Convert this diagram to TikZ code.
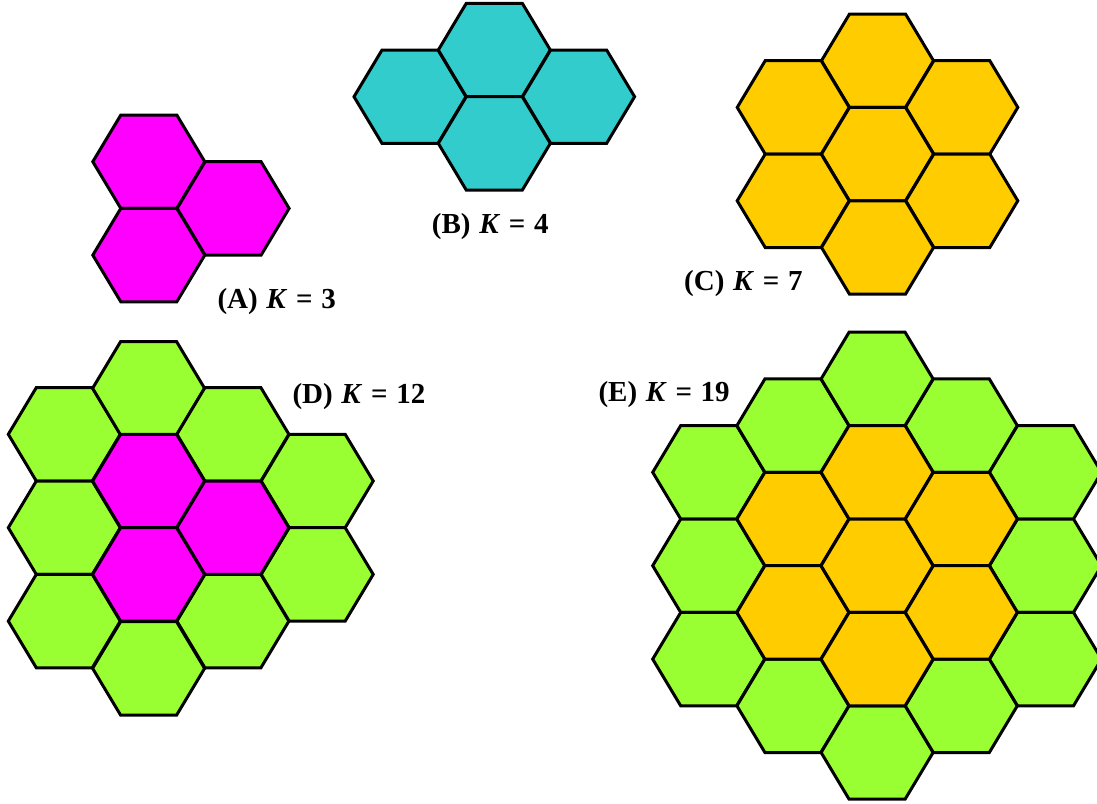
\documentclass[tikz,border=0pt]{standalone}
\usepackage{fontspec}
\setmainfont{Liberation Serif}
\definecolor{hexmag}{HTML}{FF00FF}
\definecolor{hexteal}{HTML}{33CCCC}
\definecolor{hexgold}{HTML}{FFCC00}
\definecolor{hexlime}{HTML}{99FF33}
\newcommand\lblfont{\fontsize{29}{32}\selectfont\bfseries\spaceskip=8.7pt\relax}
\tikzset{
  hexline/.style={draw=black, line width=3pt, line join=miter},
  lbl/.style={anchor=base west, inner sep=0pt, font=\lblfont},
}
% hexagon centred at (#2,#3), fill colour #1
\newcommand\hexcell[3]{%
  \filldraw[hexline, fill=#1, shift={(#2,#3)}]
    (-56,0) -- (-28,-46.7) -- (28,-46.7) -- (56,0) -- (28,46.7) -- (-28,46.7) -- cycle;}
\begin{document}
\begin{tikzpicture}[x=1pt, y=-1pt]
\useasboundingbox (0,0) rectangle (1097,803);
\clip (0,0) rectangle (1097,803);
% (A) K = 3
\hexcell{hexmag}{148.8}{161.7}
\hexcell{hexmag}{233.1}{208.4}
\hexcell{hexmag}{148.8}{255.1}
\node[lbl] (la) at (217.3,308.5) {(A) \textit{K} = 3};
% (B) K = 4
\hexcell{hexteal}{410}{96.7}
\hexcell{hexteal}{494.3}{50}
\hexcell{hexteal}{578.6}{96.7}
\hexcell{hexteal}{494.3}{143.4}
\node[lbl] (lb) at (431.7,233.3) {(B) \textit{K} = 4};
% (C) K = 7
\foreach \cx/\cy in {877.5/60.7, 793.2/107.4, 961.8/107.4, 877.5/154.1, 793.2/200.8, 961.8/200.8, 877.5/247.5}
  {\hexcell{hexgold}{\cx}{\cy}}
\node[lbl] (lc) at (684,290.3) {(C) \textit{K} = 7};
% (D) K = 12
\foreach \cx/\cy in {64.3/434.3, 64.3/527.7, 64.3/621.1,
                     148.6/388.3, 148.6/668.4,
                     232.9/434.3, 232.9/621.1,
                     317.2/481.0, 317.2/574.4}
  {\hexcell{hexlime}{\cx}{\cy}}
\foreach \cx/\cy in {148.6/481.0, 148.6/574.4, 232.9/527.7}
  {\hexcell{hexmag}{\cx}{\cy}}
\node[lbl] (ld) at (292.3,403.3) {(D) \textit{K} = 12};
% (E) K = 19
\foreach \cx/\cy in {708.7/472.3, 708.7/565.7, 708.7/659.1,
                     792.9/425.6, 792.9/705.8,
                     877.1/378.9, 877.1/752.5,
                     961.3/425.6, 961.3/705.8,
                     1045.5/472.3, 1045.5/565.7, 1045.5/659.1}
  {\hexcell{hexlime}{\cx}{\cy}}
\foreach \cx/\cy in {792.9/519.0, 792.9/612.4,
                     877.1/472.3, 877.1/565.7, 877.1/659.1,
                     961.3/519.0, 961.3/612.4}
  {\hexcell{hexgold}{\cx}{\cy}}
\node[lbl] (le) at (598.3,401.3) {(E) \textit{K} = 19};
\end{tikzpicture}
\end{document}
